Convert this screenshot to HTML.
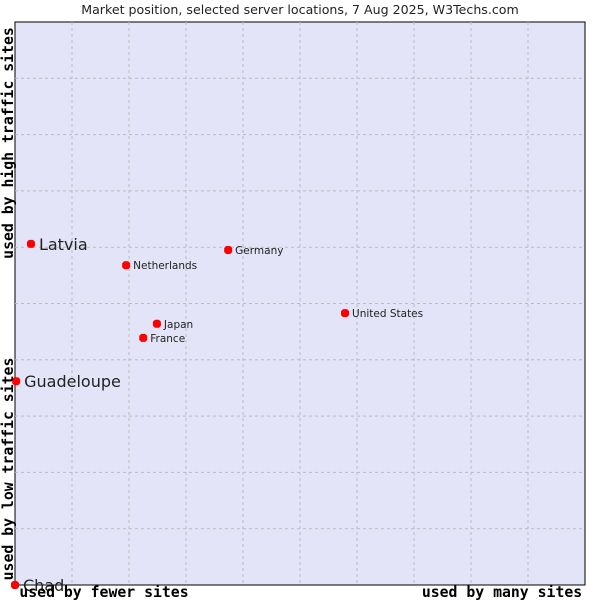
<!DOCTYPE html>
<html><head><meta charset="utf-8"><style>
html,body{margin:0;padding:0;background:#fff;}
svg{display:block;}
</style></head><body>
<svg id="chart" width="600" height="600" xmlns="http://www.w3.org/2000/svg">
<text x="300" y="14" text-anchor="middle" font-family="'DejaVu Sans','Liberation Sans',sans-serif" font-size="12.6" fill="#222">Market position, selected server locations, 7 Aug 2025, W3Techs.com</text>
<rect x="15" y="22" width="570" height="563" fill="#e3e4f8" stroke="#000" stroke-width="1"/>
<g id="grid"></g>
<g id="pts"></g>
<text x="104" y="597" text-anchor="middle" font-family="'DejaVu Sans Mono','Liberation Mono',monospace" font-size="14.8" font-weight="bold" fill="#000">used by fewer sites</text>
<text x="502" y="597" text-anchor="middle" font-family="'DejaVu Sans Mono','Liberation Mono',monospace" font-size="14.8" font-weight="bold" fill="#000">used by many sites</text>
<text transform="translate(13,143) rotate(-90)" text-anchor="middle" font-family="'DejaVu Sans Mono','Liberation Mono',monospace" font-size="14.8" font-weight="bold" fill="#000">used by high traffic sites</text>
<text transform="translate(13,469) rotate(-90)" text-anchor="middle" font-family="'DejaVu Sans Mono','Liberation Mono',monospace" font-size="14.8" font-weight="bold" fill="#000">used by low traffic sites</text>
</svg>
<script>
const names = ["Latvia","Guadeloupe","Chad","Netherlands","Germany","United States","Japan","France"];
const xVals = [2.8,0.2,0,19.5,37.4,57.9,24.9,22.5];
const yVals = [60.6,36.2,0,56.8,59.5,48.3,46.4,43.9];
const highlighted = [true,true,true,false,false,false,false,false];
const NS="http://www.w3.org/2000/svg";
const L=15,T=22,W=570,H=563;
function sx(v){return L+v/100*W;}
function sy(v){return T+H-v/100*H;}
const grid=document.getElementById('grid');
for(let k=1;k<10;k++){
  const v=document.createElementNS(NS,'line');
  v.setAttribute('x1',sx(k*10));v.setAttribute('x2',sx(k*10));v.setAttribute('y1',T);v.setAttribute('y2',T+H);
  v.setAttribute('stroke','#bbb');v.setAttribute('stroke-dasharray','3,3');
  
  
  grid.appendChild(v);
  const h=document.createElementNS(NS,'line');
  h.setAttribute('y1',sy(k*10));h.setAttribute('y2',sy(k*10));h.setAttribute('x1',L);h.setAttribute('x2',L+W);
  h.setAttribute('stroke','#bbb');h.setAttribute('stroke-dasharray','3,3');
  
  
  grid.appendChild(h);
}
const pts=document.getElementById('pts');
names.forEach((n,i)=>{
  const x=sx(xVals[i]),y=sy(yVals[i]);
  const m=document.createElementNS(NS,'path');
  m.setAttribute('d',`M${x-4},${y-2}L${x-2},${y-4}L${x+2},${y-4}L${x+4},${y-2}L${x+4},${y+2}L${x+2},${y+4}L${x-2},${y+4}L${x-4},${y+2}Z`);
  m.setAttribute('fill','#f00');
  
  
  pts.appendChild(m);
  const t=document.createElementNS(NS,'text');
  t.setAttribute('x',x+(highlighted[i]?8:7));
  t.setAttribute('y',y+(highlighted[i]?6:4));
  t.setAttribute('font-family',"'DejaVu Sans','Liberation Sans',sans-serif");
  t.setAttribute('font-size',highlighted[i]?'16':'10.5');
  t.setAttribute('fill','#222');
  t.textContent=n;
  
  
  pts.appendChild(t);
});
</script>
</body></html>
